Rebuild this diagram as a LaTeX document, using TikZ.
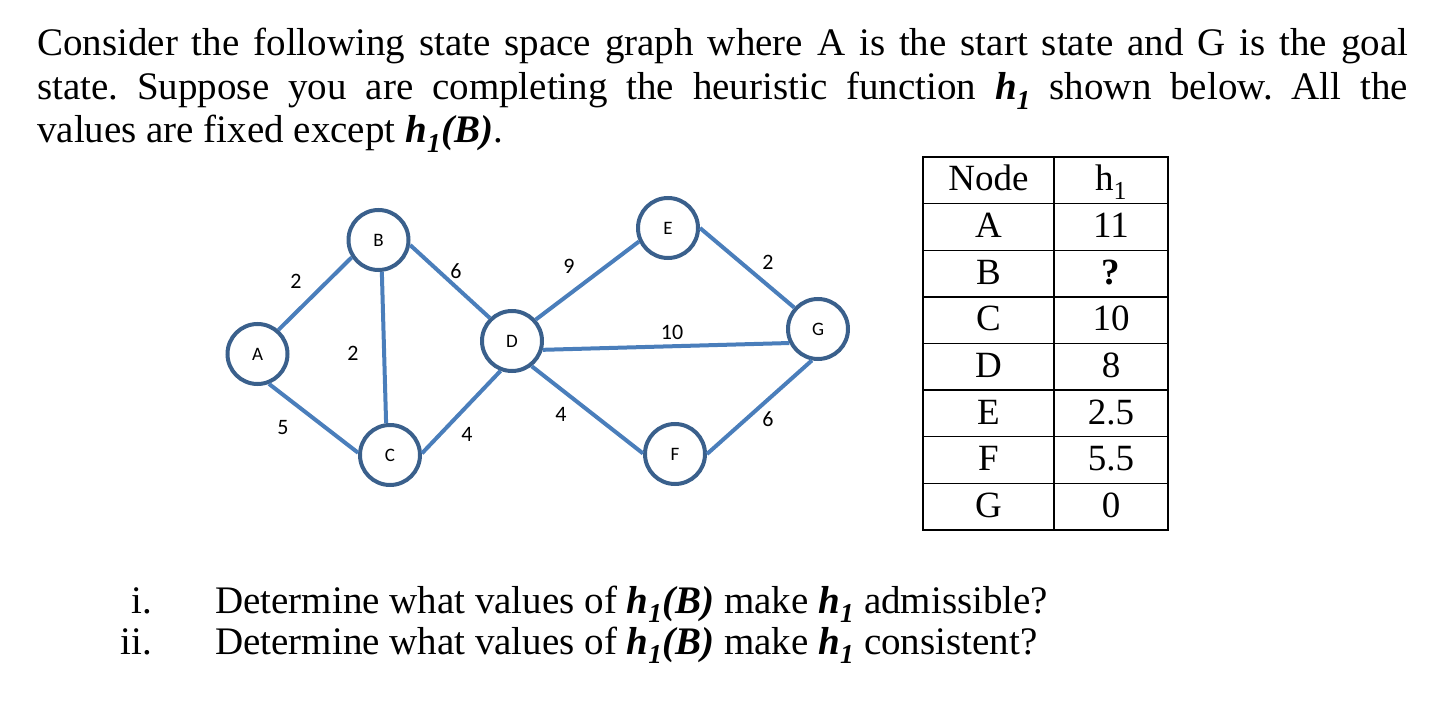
\documentclass[tikz,border=0pt]{standalone}
\usepackage{fontspec}
\setmainfont{Liberation Serif}
\newfontfamily\calibfont{Carlito}
\usetikzlibrary{calc}
\frenchspacing

\definecolor{edgeblue}{RGB}{74,126,187}
\definecolor{ringblue}{RGB}{58,96,140}

\newcommand{\hone}{\textbf{\textit{h\textsubscript{1}}}}
\newcommand{\honeB}{\textbf{\textit{h\textsubscript{1}(B)}}}

\tikzset{
  state/.style={circle, draw=ringblue, line width=4pt, fill=white,
    minimum size=60pt, inner sep=0pt, font=\calibfont\fontsize{19}{19}\selectfont},
  edge/.style={edgeblue, line width=4pt},
  weight/.style={inner sep=0pt, font=\calibfont\fontsize{22}{22}\selectfont},
  txt/.style={anchor=base west, inner sep=0pt, font=\fontsize{39}{43}\selectfont},
  cell/.style={anchor=base, inner sep=0pt, font=\fontsize{37}{37}\selectfont}
}

\begin{document}
\begin{tikzpicture}[x=1pt, y=-1pt]
  \useasboundingbox (0,0) rectangle (1430,714);

  % question text
  \node[txt] (line1) at (37,56)
    {\makebox[1371pt][s]{Consider the following state space graph where A is the start state and G is the goal}};
  \node[txt] (line2) at (37,100)
    {\makebox[1371pt][s]{state. Suppose you are completing the heuristic function \hone{} shown below. All the}};
  \node[txt] (line3) at (37,143) {values are fixed except \honeB.};

  % graph
  \node[state] (A) at (257.5,354) {A};
  \node[state] (B) at (378.5,240) {B};
  \node[state] (C) at (390,455) {C};
  \node[state] (D) at (512,341) {D};
  \node[state] (E) at (668,228) {E};
  \node[state] (F) at (675,454) {F};
  \node[state] (G) at (818,329) {G};

  \foreach \a/\b in {A.49/B.213, A.-69/C.176, B.-84/C.97, B.-9/D.134, C.3/D.249,
                     D.42/E.205, D.-52/F.179, D.-16/G.206, E.0/G.138, F.0/G.259}
    \draw[edge] (\a) -- (\b);

  \node[weight] (wAB) at (296,281) {2};
  \node[weight] (wBC) at (353,353) {2};
  \node[weight] (wAC) at (283,428) {5};
  \node[weight] (wBD) at (456,271) {6};
  \node[weight] (wCD) at (467,434) {4};
  \node[weight] (wDE) at (569,266) {9};
  \node[weight] (wDF) at (561,414) {4};
  \node[weight] (wDG) at (672,332) {10};
  \node[weight] (wEG) at (768,262) {2};
  \node[weight] (wFG) at (768,419) {6};

  % heuristic table
  \draw[line width=1.3pt] (923,157) rectangle (1168,530);
  \draw[line width=1.3pt] (1054,157) -- (1054,530);
  \foreach \r in {1,...,7}
    \draw[line width=1.3pt] (923,{157+46.625*\r}) -- (1168,{157+46.625*\r});
  \foreach \n/\v [count=\i from 0] in {Node/{h\textsubscript{1}}, A/11, B/{\textbf{?}},
                                       C/10, D/8, E/2.5, F/5.5, G/0} {
    \node[cell] (name\i) at (988.5,{157+46.625*\i+34}) {\n};
    \node[cell] (val\i) at (1111,{157+46.625*\i+34}) {\v};
  }

  % sub-questions
  \node[txt, anchor=base east] (num1) at (152,613) {i.};
  \node[txt] (ask1) at (215,613) {Determine what values of \honeB{} make \hone{} admissible?};
  \node[txt, anchor=base east] (num2) at (152,654) {ii.};
  \node[txt] (ask2) at (215,654) {Determine what values of \honeB{} make \hone{} consistent?};
\end{tikzpicture}
\end{document}
